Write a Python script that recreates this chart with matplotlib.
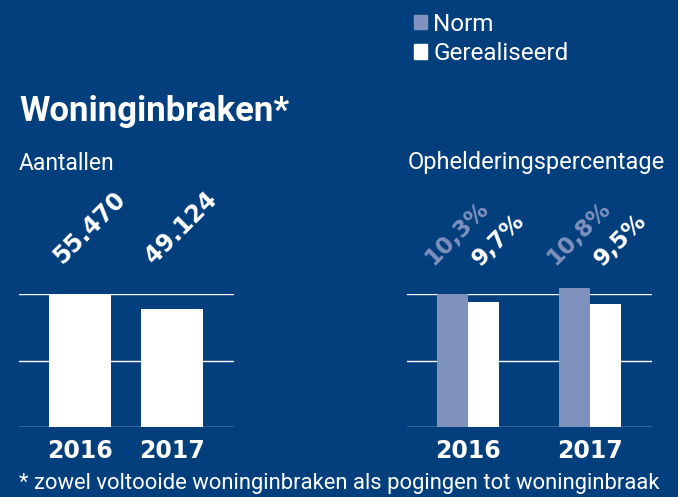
import matplotlib
matplotlib.use("Agg")
from matplotlib import pyplot as plt
from matplotlib.patches import Patch

# data
jaren = ["2016", "2017"]
aantallen = [55470, 49124]
aantal_labels = ["55.470", "49.124"]
norm = [10.3, 10.8]
gerealiseerd = [9.7, 9.5]
norm_labels = ["10,3%", "10,8%"]
real_labels = ["9,7%", "9,5%"]

bg = "#043f7d"
norm_kleur = "#7f91bd"
wit = "white"

plt.rcParams['font.family'] = ['Roboto', 'DejaVu Sans']
cijfer_font = ['DejaVu Sans']

fig = plt.figure(figsize=(6.78, 4.97), dpi=100, facecolor=bg)

def style_axes(ax, top):
    ax.set_facecolor(bg)
    for s in ax.spines.values():
        s.set_visible(False)
    ax.set_ylim(0, top)
    for y in [0, top / 2, top]:
        ax.axhline(y, color=wit, lw=1.0, zorder=1)
    ax.set_yticks([])
    ax.tick_params(axis='x', length=0, pad=9)

# left panel: aantallen
ax1 = fig.add_axes([19/678, 1 - 427/497, 215/678, 133/497])
style_axes(ax1, aantallen[0])
x1 = list(range(len(jaren)))
ax1.bar(x1, aantallen, width=0.674, color=wit, zorder=2, clip_on=False)
ax1.set_xlim(-0.663, 1.674)
ax1.set_xticks(x1)
ax1.set_xticklabels(jaren, color=wit, fontsize=17, fontweight='bold', family=cijfer_font)
for i, lab in enumerate(aantal_labels):
    ax1.text(i + 0.1, 1.5, lab, transform=ax1.get_xaxis_transform(), rotation=45,
             rotation_mode='anchor', ha='center', va='center',
             color=wit, fontsize=17, fontweight='bold', family=cijfer_font)

# right panel: ophelderingspercentage
ax2 = fig.add_axes([407/678, 1 - 427/497, 245/678, 133/497])
style_axes(ax2, norm[0])
w = 0.254
x2 = list(range(len(jaren)))
ax2.bar([x - w/2 for x in x2], norm, width=w, color=norm_kleur, zorder=2, clip_on=False)
ax2.bar([x + w/2 for x in x2], gerealiseerd, width=w, color=wit, zorder=2, clip_on=False)
ax2.set_xlim(-0.5, 1.508)
ax2.set_xticks(x2)
ax2.set_xticklabels(jaren, color=wit, fontsize=17, fontweight='bold', family=cijfer_font)
for i in x2:
    ax2.text(i - 0.09, 1.46, norm_labels[i], transform=ax2.get_xaxis_transform(),
             rotation=45, rotation_mode='anchor', ha='center', va='center',
             color=norm_kleur, fontsize=16.5, fontweight='bold', family=cijfer_font)
    ax2.text(i + 0.25, 1.41, real_labels[i], transform=ax2.get_xaxis_transform(),
             rotation=45, rotation_mode='anchor', ha='center', va='center',
             color=wit, fontsize=16.5, fontweight='bold', family=cijfer_font)

# texts
fig.text(19/678, 1 - 112/497, "Woninginbraken*", color=wit, fontsize=25,
         fontweight='bold', va='center', ha='left')
fig.text(19/678, 1 - 163/497, "Aantallen", color=wit, fontsize=16.5,
         va='center', ha='left')
fig.text(408/678, 1 - 163/497, "Ophelderingspercentage", color=wit, fontsize=17,
         va='center', ha='left')
fig.text(19/678, 1 - 483/497,
         "* zowel voltooide woninginbraken als pogingen tot woninginbraak",
         color=wit, fontsize=15.8, va='center', ha='left')

handles = [Patch(color=norm_kleur, label="Norm"), Patch(color=wit, label="Gerealiseerd")]
fig.legend(handles=handles, loc='upper left', bbox_to_anchor=(404/678, 1 - 3/497),
           frameon=False, labelcolor=wit, fontsize=17.5, handlelength=0.55,
           handleheight=0.55, handletextpad=0.25, labelspacing=0.25, borderaxespad=0)

fig.savefig("out.png", dpi=100, facecolor=bg)
